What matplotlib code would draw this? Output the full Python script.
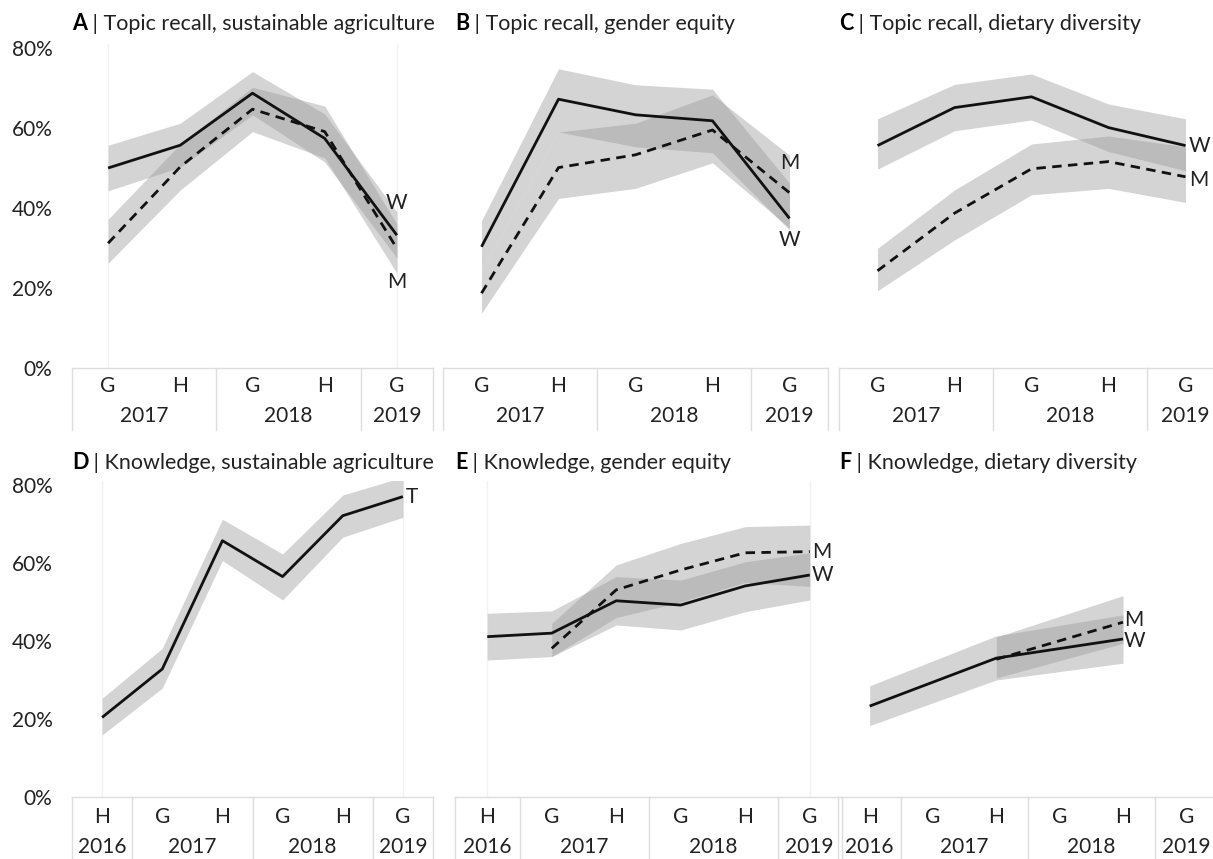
import numpy as np
import matplotlib
matplotlib.use('Agg')
import matplotlib.pyplot as plt
from matplotlib.transforms import blended_transform_factory

plt.rcParams['font.family'] = ['Lato', 'DejaVu Sans']

# x categories
top_periods = ['G', 'H', 'G', 'H', 'G']
top_years = ['2017', '2018', '2019']
top_groups = [(0, 1), (2, 3), (4, 4)]
bot_periods = ['H', 'G', 'H', 'G', 'H', 'G']
bot_years = ['2016', '2017', '2018', '2019']
bot_groups = [(0, 0), (1, 2), (3, 4), (5, 5)]

# A | Topic recall, sustainable agriculture
a_w = [50.0, 55.7, 68.7, 57.4, 33.2]
a_w_lo = [44.3, 50.2, 63.3, 51.5, 27.5]
a_w_hi = [55.7, 61.2, 74.1, 63.5, 39.0]
a_m = [31.2, 50.3, 64.7, 59.1, 29.9]
a_m_lo = [26.2, 44.5, 59.1, 52.5, 23.7]
a_m_hi = [37.2, 56.0, 70.2, 65.5, 36.0]

# B | Topic recall, gender equity
b_w = [30.3, 67.2, 63.3, 61.8, 37.4]
b_w_lo = [24.3, 59.0, 55.3, 53.8, 34.5]
b_w_hi = [36.8, 74.8, 70.8, 69.7, 46.2]
b_m = [18.7, 50.1, 53.3, 59.5, 43.8]
b_m_lo = [13.7, 42.4, 44.9, 51.3, 35.0]
b_m_hi = [24.3, 59.0, 61.2, 68.3, 53.2]

# C | Topic recall, dietary diversity
c_w = [55.6, 65.1, 67.8, 60.1, 55.6]
c_w_lo = [49.7, 59.3, 62.0, 54.1, 49.3]
c_w_hi = [62.3, 70.9, 73.5, 66.0, 62.3]
c_m = [24.3, 38.7, 49.8, 51.6, 47.8]
c_m_lo = [19.3, 32.0, 43.3, 44.9, 41.4]
c_m_hi = [29.9, 44.5, 56.0, 58.0, 55.3]

# D | Knowledge, sustainable agriculture
d_t = [20.4, 32.8, 65.7, 56.5, 72.1, 77.0]
d_t_lo = [15.9, 27.9, 60.6, 50.5, 66.6, 71.7]
d_t_hi = [25.3, 38.1, 71.2, 62.3, 77.4, 82.0]

# E | Knowledge, gender equity
e_w = [41.1, 42.0, 50.3, 49.2, 54.1, 56.9]
e_w_lo = [35.1, 36.0, 44.1, 42.8, 47.5, 50.5]
e_w_hi = [47.1, 47.7, 56.5, 55.6, 60.3, 62.6]
e_m = [None, 38.1, 53.1, 58.2, 62.6, 62.9]
e_m_lo = [None, 36.0, 46.0, 50.0, 55.0, 54.0]
e_m_hi = [None, 44.5, 59.5, 65.0, 69.3, 69.7]

# F | Knowledge, dietary diversity
f_w = [23.3, None, 35.6, None, 40.5, None]
f_w_lo = [18.3, None, 30.0, None, 34.3, None]
f_w_hi = [28.5, None, 41.3, None, 46.7, None]
f_m = [None, None, 35.3, None, 44.8, None]
f_m_lo = [None, None, 30.5, None, 39.4, None]
f_m_hi = [None, None, 41.0, None, 51.6, None]

FW, FH = 1213, 859
fig = plt.figure(figsize=(FW / 100, FH / 100), dpi=100)

TXT = '#222222'
BAND = '#9a9a9a'
GRID = '#dedede'
FS = 15
TFS = 15.5


def arr(v):
    return np.array([np.nan if x is None else x for x in v], dtype=float)


def make_axes(left, right, zero_y, top_y):
    return fig.add_axes([left / FW, 1 - zero_y / FH, (right - left) / FW, (zero_y - top_y) / FH])


def draw_series(ax, vals, lo, hi, dashed=False):
    v, l, h = arr(vals), arr(lo), arr(hi)
    x = np.arange(len(v))
    ok = np.isfinite(v)
    ax.fill_between(x[ok], l[ok], h[ok], color=BAND, alpha=0.42, linewidth=0, zorder=1)
    ls = (0, (3.4, 2.3)) if dashed else '-'
    ax.plot(x[ok], v[ok], color='#111111', lw=2.0, ls=ls, zorder=3,
            solid_capstyle='butt', dash_capstyle='butt')
    return x[ok][-1], v[ok][-1]


def label(ax, xy, text, dx, dy, ha='center'):
    ax.annotate(text, xy=xy, xytext=(dx, dy), textcoords='offset pixels',
                ha=ha, va='center', fontsize=FS, color=TXT)


def x_table(ax, periods, years, groups, zero_y, lab_y, year_y, bottom_y, end_lines):
    n = len(periods)
    tr = blended_transform_factory(ax.transData, fig.transFigure)
    fy = lambda p: 1 - p / FH
    ax.plot([-0.5, n - 0.5], [fy(zero_y)] * 2, transform=tr, color=GRID, lw=1, clip_on=False)
    bounds = [-0.5] + [g[1] + 0.5 for g in groups]
    for b in bounds:
        ax.plot([b, b], [fy(zero_y), fy(bottom_y)], transform=tr, color=GRID, lw=1, clip_on=False)
    for i, p in enumerate(periods):
        ax.text(i, fy(lab_y), p, transform=tr, ha='center', va='center', fontsize=FS, color=TXT)
    for yr, (g0, g1) in zip(years, groups):
        ax.text((g0 + g1) / 2, fy(year_y), yr, transform=tr, ha='center', va='center',
                fontsize=FS, color=TXT)
    if end_lines:
        for xv in (0, n - 1):
            ax.axvline(xv, color='#f2f2f2', lw=1, zorder=0)


def style(ax, n, show_y):
    ax.set_xlim(-0.5, n - 0.5)
    ax.set_ylim(0, 81)
    for s in ax.spines.values():
        s.set_visible(False)
    ax.set_xticks([])
    if show_y:
        ax.set_yticks([0, 20, 40, 60, 80])
        ax.set_yticklabels(['0%', '20%', '40%', '60%', '80%'], fontsize=FS, color=TXT)
        ax.tick_params(axis='y', length=0, pad=14)
    else:
        ax.set_yticks([])
    ax.patch.set_alpha(0)


def title(ax, x_px, y_px, letter, rest):
    t = fig.text(x_px / FW, 1 - y_px / FH, letter, fontsize=TFS, fontweight='bold',
                 color='black', va='bottom', ha='left')
    ax.annotate(rest, xy=(1, 0), xycoords=t, va='bottom', ha='left', fontsize=TFS, color=TXT)


# top row
TZ, TT = 368, 44
axA = make_axes(72, 433, TZ, TT)
axB = make_axes(443, 828, TZ, TT)
axC = make_axes(839, 1224, TZ, TT)
# bottom row
BZ, BT = 797, 481
axD = make_axes(72, 433, BZ, BT)
axE = make_axes(455, 842, BZ, BT)
axF = make_axes(838, 1218, BZ, BT)

for ax, sy, el in ((axA, True, True), (axB, False, False), (axC, False, False)):
    style(ax, 5, sy)
    x_table(ax, top_periods, top_years, top_groups, TZ, 386, 416, 430, el)
for ax, sy, el in ((axD, True, True), (axE, False, True), (axF, False, False)):
    style(ax, 6, sy)
    x_table(ax, bot_periods, bot_years, bot_groups, BZ, 817, 847, 859, el)

# A
p = draw_series(axA, a_w, a_w_lo, a_w_hi)
label(axA, p, 'W', 0, 32)
p = draw_series(axA, a_m, a_m_lo, a_m_hi, dashed=True)
label(axA, p, 'M', 0, -34)
# B
p = draw_series(axB, b_w, b_w_lo, b_w_hi)
label(axB, p, 'W', 0, -22)
p = draw_series(axB, b_m, b_m_lo, b_m_hi, dashed=True)
label(axB, p, 'M', 0, 30)
# C
p = draw_series(axC, c_w, c_w_lo, c_w_hi)
label(axC, p, 'W', 3, 0, ha='left')
p = draw_series(axC, c_m, c_m_lo, c_m_hi, dashed=True)
label(axC, p, 'M', 4, -3, ha='left')
# D
p = draw_series(axD, d_t, d_t_lo, d_t_hi)
label(axD, p, 'T', 3, 0, ha='left')
# E
p = draw_series(axE, e_w, e_w_lo, e_w_hi)
label(axE, p, 'W', 2, 0, ha='left')
p = draw_series(axE, e_m, e_m_lo, e_m_hi, dashed=True)
label(axE, p, 'M', 2, 0, ha='left')
# F
p = draw_series(axF, f_w, f_w_lo, f_w_hi)
label(axF, p, 'W', 1, -2, ha='left')
p = draw_series(axF, f_m, f_m_lo, f_m_hi, dashed=True)
label(axF, p, 'M', 1, 2, ha='left')

title(axA, 72, 34, 'A', ' | Topic recall, sustainable agriculture')
title(axB, 455, 34, 'B', ' | Topic recall, gender equity')
title(axC, 839, 34, 'C', ' | Topic recall, dietary diversity')
title(axD, 72, 473, 'D', ' | Knowledge, sustainable agriculture')
title(axE, 455, 473, 'E', ' | Knowledge, gender equity')
title(axF, 839, 473, 'F', ' | Knowledge, dietary diversity')

fig.savefig('out.png', dpi=100, facecolor='white')
